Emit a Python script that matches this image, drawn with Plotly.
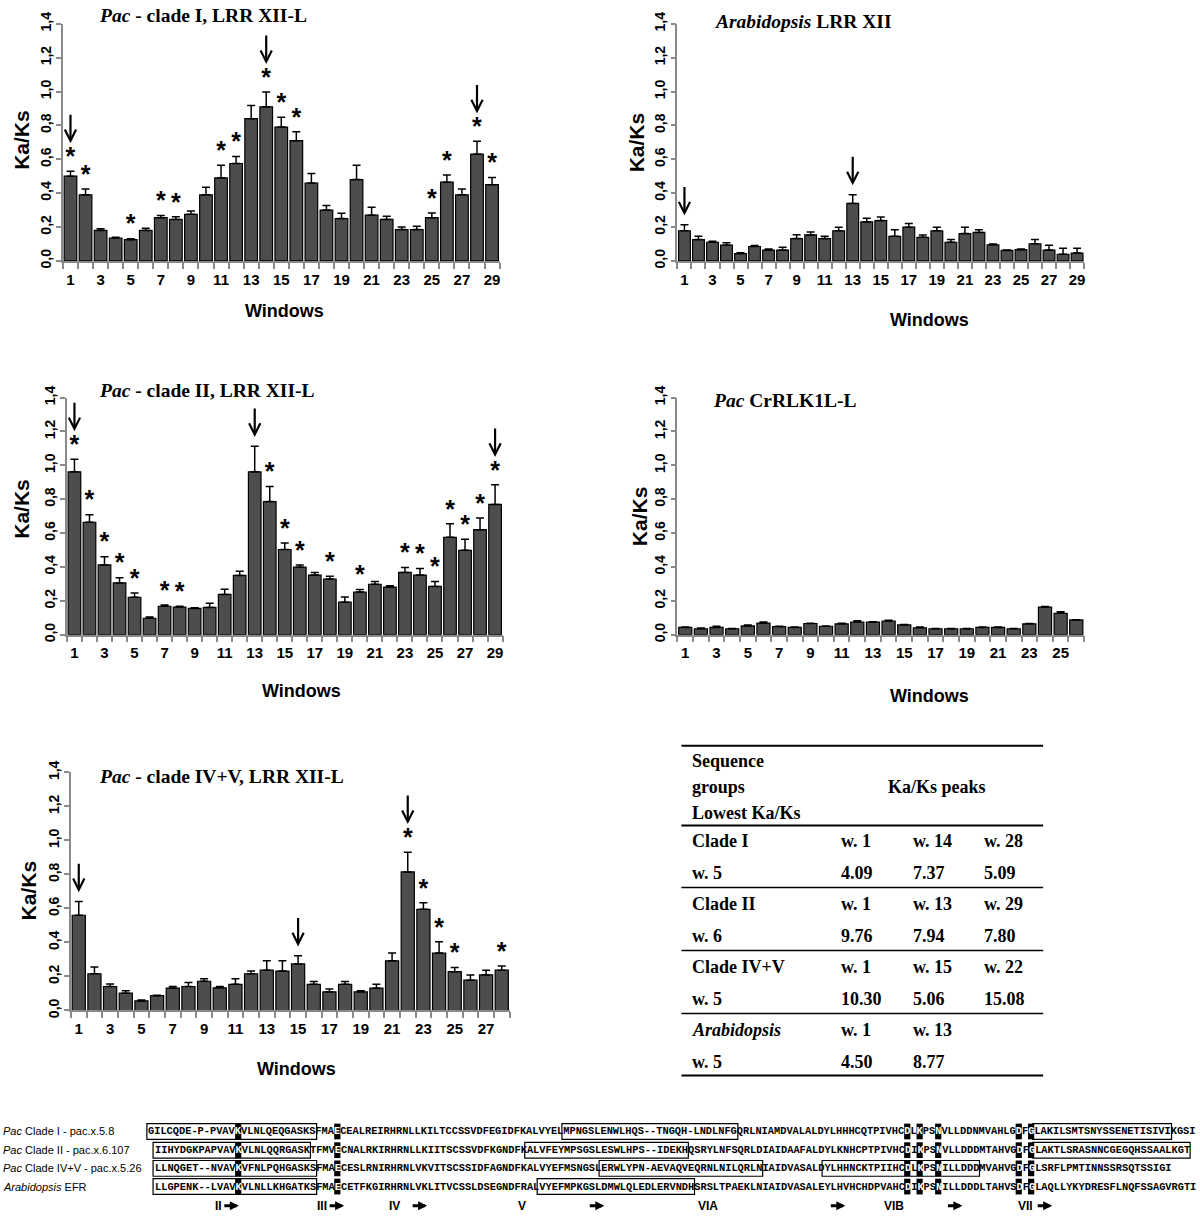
import plotly.graph_objects as go

W, H = 1200, 1229

# Ka/Ks per window (bar) and upper error, windows with * and arrow peaks
clade1_kaks = [0.50, 0.39, 0.18, 0.135, 0.125, 0.18, 0.255, 0.245, 0.275, 0.39, 0.49, 0.575, 0.84, 0.91, 0.79,
               0.71, 0.46, 0.30, 0.25, 0.48, 0.27, 0.245, 0.185, 0.185, 0.255, 0.465, 0.39, 0.63, 0.45]
clade1_err = [0.03, 0.035, 0.01, 0.005, 0.006, 0.013, 0.013, 0.015, 0.02, 0.045, 0.074, 0.041, 0.078, 0.087, 0.058,
              0.052, 0.056, 0.027, 0.031, 0.084, 0.047, 0.019, 0.015, 0.019, 0.027, 0.042, 0.035, 0.076, 0.043]
clade1_stars = [1, 2, 5, 7, 8, 11, 12, 14, 15, 16, 25, 26, 28, 29]
clade1_peaks = [1, 14, 28]

arab_kaks = [0.178, 0.126, 0.11, 0.093, 0.043, 0.085, 0.064, 0.064, 0.132, 0.153, 0.132, 0.178, 0.339, 0.23, 0.238,
             0.145, 0.199, 0.139, 0.178, 0.11, 0.161, 0.168, 0.095, 0.062, 0.066, 0.101, 0.064, 0.039, 0.046]
arab_err = [0.035, 0.02, 0.006, 0.014, 0.005, 0.006, 0.006, 0.017, 0.023, 0.017, 0.013, 0.021, 0.052, 0.022, 0.021,
            0.039, 0.022, 0.014, 0.021, 0.016, 0.038, 0.016, 0.004, 0.002, 0.004, 0.025, 0.029, 0.035, 0.028]
arab_stars = []
arab_peaks = [1, 13]

clade2_kaks = [0.962, 0.664, 0.412, 0.306, 0.221, 0.097, 0.168, 0.163, 0.155, 0.161, 0.238, 0.35, 0.962, 0.786, 0.503,
               0.399, 0.352, 0.329, 0.192, 0.252, 0.298, 0.281, 0.368, 0.352, 0.285, 0.575, 0.498, 0.62, 0.769]
clade2_err = [0.074, 0.045, 0.049, 0.031, 0.025, 0.008, 0.008, 0.005, 0.004, 0.025, 0.031, 0.024, 0.151, 0.089, 0.039,
              0.013, 0.016, 0.016, 0.031, 0.015, 0.016, 0.008, 0.029, 0.039, 0.029, 0.08, 0.066, 0.069, 0.116]
clade2_stars = [1, 2, 3, 4, 5, 7, 8, 14, 15, 16, 18, 20, 23, 24, 25, 26, 27, 28, 29]
clade2_peaks = [1, 13, 29]

crrlk_kaks = [0.043, 0.035, 0.043, 0.035, 0.052, 0.068, 0.048, 0.043, 0.066, 0.05, 0.064, 0.075, 0.074,
              0.081, 0.058, 0.041, 0.035, 0.035, 0.035, 0.043, 0.043, 0.035, 0.064, 0.163, 0.126, 0.087]
crrlk_err = [0.002, 0.005, 0.007, 0.002, 0.006, 0.007, 0.002, 0.002, 0.002, 0.002, 0.003, 0.008, 0.003,
             0.004, 0.002, 0.004, 0.002, 0.002, 0.002, 0.002, 0.002, 0.002, 0.002, 0.004, 0.01, 0.002]
crrlk_stars = []
crrlk_peaks = []

clade45_kaks = [0.56, 0.216, 0.141, 0.102, 0.056, 0.087, 0.131, 0.141, 0.172, 0.133, 0.154, 0.216, 0.237, 0.232,
                0.274, 0.154, 0.11, 0.154, 0.11, 0.131, 0.292, 0.815, 0.595, 0.338, 0.228, 0.178, 0.209, 0.237]
clade45_err = [0.081, 0.039, 0.015, 0.014, 0.006, 0.002, 0.01, 0.023, 0.015, 0.008, 0.033, 0.016, 0.055, 0.06,
               0.048, 0.016, 0.016, 0.016, 0.006, 0.023, 0.046, 0.116, 0.038, 0.066, 0.025, 0.031, 0.028, 0.024]
clade45_stars = [22, 23, 24, 25, 28]
clade45_peaks = [1, 15, 22]

# summary table
table_header = ["Sequence", "groups", "Lowest Ka/Ks"]
table_groups = ["Clade I", "Clade II", "Clade IV+V", "<i>Arabidopsis</i>"]
table_lowest = ["w. 5", "w. 6", "w. 5", "w. 5"]
table_peak_windows = [["w. 1", "w. 14", "w. 28"], ["w. 1", "w. 13", "w. 29"],
                      ["w. 1", "w. 15", "w. 22"], ["w. 1", "w. 13", ""]]
table_peak_values = [["4.09", "7.37", "5.09"], ["9.76", "7.94", "7.80"],
                     ["10.30", "5.06", "15.08"], ["4.50", "8.77", ""]]

# kinase domain alignment
seq_labels = ["<i>Pac</i> Clade I - pac.x.5.8", "<i>Pac</i> Clade II - pac.x.6.107",
              "<i>Pac</i> Clade IV+V - pac.x.5.26", "<i>Arabidopsis</i> EFR"]
seq_rows = [
    "GILCQDE-P-PVAVKVLNLQEQGASKSFMAECEALREIRHRNLLKILTCCSSVDFEGIDFKALVYELMPNGSLENWLHQS--TNGQH-LNDLNFGQRLNIAMDVALALDYLHHHCQTPIVHCDLKPSNVLLDDNMVAHLGDFGLAKILSMTSNYSSENETISIVIKGSI",
    "IIHYDGKPAPVAVKVLNLQQRGASKTFMVECNALRKIRHRNLLKIITSCSSVDFKGNDFKALVFEYMPSGSLESWLHPS--IDEKHQSRYLNFSQRLDIAIDAAFALDYLKNHCPTPIVHCDIKPSNVLLDDDMTAHVGDFGLAKTLSRASNNCGEGQHSSAALKGT",
    "LLNQGET--NVAVKVFNLPQHGASKSFMAECESLRNIRHRNLVKVITSCSSIDFAGNDFKALVYEFMSNGSLERWLYPN-AEVAQVEQRNLNILQRLNIAIDVASALDYLHHNCKTPIIHCDLKPSNILLDDDMVAHVGDFGLSRFLPMTINNSSRSQTSSIGI",
    "LLGPENK--LVAVKVLNLLKHGATKSFMAECETFKGIRHRNLVKLITVCSSLDSEGNDFRALVYEFMPKGSLDMWLQLEDLERVNDHSRSLTPAEKLNIAIDVASALEYLHVHCHDPVAHCDIKPSNILLDDDLTAHVSDFGLAQLLYKYDRESFLNQFSSAGVRGTI",
]
seq_start_col = [0, 1, 1, 1]
seq_boxes = [[(0, 26), (67, 94), (143, 164)],
             [(1, 25), (61, 86), (143, 167)],
             [(1, 26), (73, 98), (109, 133)],
             [(1, 26), (63, 87)]]
seq_marked_cols = [14, 30, 122, 124, 127, 140, 142]
motif_labels = ["II", "III", "IV", "V", "VIA", "VIB", "VII"]
motif_cols = [11.3, 28.0, 39.7, 60.3, 90.3, 120.3, 141.6]
motif_arrow_cols = [14.6, 31.6, 45.0, 73.6, 112.5, 131.4, 145.9]


def px(x):
    return x / W


def py(y):
    return 1 - y / H


def mid(**kw):
    d = dict(xref="paper", yref="paper", showarrow=False, xanchor="center", yanchor="middle")
    d.update(kw)
    return d


panels = [
    dict(v=clade1_kaks, e=clade1_err, stars=clade1_stars, peaks=clade1_peaks, box=(63, 12, 500, 253),
         title="<i>Pac</i> - clade I, LRR XII-L", tpos=(97, 4), ylab=(22, 130), xlab=(285, 304)),
    dict(v=arab_kaks, e=arab_err, stars=arab_stars, peaks=arab_peaks, box=(678, 12, 1085, 253),
         title="<i>Arabidopsis</i> LRR XII", tpos=(713, 10), ylab=(637, 132), xlab=(930, 313)),
    dict(v=clade2_kaks, e=clade2_err, stars=clade2_stars, peaks=clade2_peaks, box=(67, 392, 503, 633),
         title="<i>Pac</i> - clade II, LRR XII-L", tpos=(97, 385), ylab=(22, 505), xlab=(302, 690)),
    dict(v=crrlk_kaks, e=crrlk_err, stars=crrlk_stars, peaks=crrlk_peaks, box=(678, 392, 1085, 633),
         title="<i>Pac</i> CrRLK1L-L", tpos=(712, 395), ylab=(640, 512), xlab=(930, 695)),
    dict(v=clade45_kaks, e=clade45_err, stars=clade45_stars, peaks=clade45_peaks, box=(71, 773, 510, 1015),
         title="<i>Pac</i> - clade IV+V, LRR XII-L", tpos=(97, 777), ylab=(28, 893), xlab=(297, 1074)),
]

AXIS_GREY = "#8a8a8a"
fig = go.Figure()
annotations = []
shapes = []
layout_axes = {}

for i, p in enumerate(panels, start=1):
    n = len(p["v"])
    xs = list(range(1, n + 1))
    xa = "x" if i == 1 else f"x{i}"
    ya = "y" if i == 1 else f"y{i}"
    fig.add_trace(go.Bar(
        x=xs, y=p["v"], xaxis=xa, yaxis=ya, width=0.84, showlegend=False, hoverinfo="skip",
        marker=dict(color="#4d4d4d", line=dict(color="black", width=1.2)),
        error_y=dict(type="data", symmetric=False, array=p["e"], arrayminus=[0] * n,
                     color="black", thickness=1.5, width=4)))
    tops = [a + b for a, b in zip(p["v"], p["e"])]
    if p["stars"]:
        fig.add_trace(go.Scatter(
            x=p["stars"], y=[tops[w - 1] for w in p["stars"]], mode="text",
            text=["*"] * len(p["stars"]), textposition="top center", cliponaxis=False,
            textfont=dict(family="Liberation Sans", size=25, color="black", weight="bold"),
            xaxis=xa, yaxis=ya, showlegend=False, hoverinfo="skip"))
    for w in p["peaks"]:
        lift = 0.165 if w in p["stars"] else 0.055
        annotations.append(dict(x=w, y=tops[w - 1] + lift, xref=xa, yref=ya, text="", showarrow=True,
                                arrowhead=5, arrowsize=1, arrowwidth=2.2, arrowcolor="black",
                                ax=0, ay=-30))
    x0, y0, x1, y1 = p["box"]
    key = "" if i == 1 else str(i)
    layout_axes["xaxis" + key] = dict(
        domain=[px(x0), px(x1)], anchor=ya, range=[0.5, n + 0.5], tickmode="array",
        tickvals=list(range(1, n + 1, 2)), ticks="outside", ticklen=4, tickcolor="rgba(0,0,0,0)",
        showline=True, linecolor=AXIS_GREY, linewidth=1.5, showgrid=False, zeroline=False,
        tickfont=dict(family="Liberation Sans", size=15, color="black", weight="bold"),
        minor=dict(tickmode="linear", tick0=0.5, dtick=1, ticks="outside", ticklen=6,
                   tickcolor=AXIS_GREY, tickwidth=1.5, showgrid=False),
        fixedrange=True)
    layout_axes["yaxis" + key] = dict(
        domain=[py(y1), py(y0)], anchor=xa, range=[0, 1.4], dtick=0.2, tickformat=".1f",
        ticks="outside", ticklen=5, tickcolor=AXIS_GREY, tickwidth=1.5, tickangle=-90,
        showline=True, linecolor=AXIS_GREY, linewidth=1.5, showgrid=False, zeroline=False,
        tickfont=dict(family="Liberation Sans", size=14, color="black", weight="bold"),
        fixedrange=True)
    tx, ty = p["tpos"]
    annotations.append(mid(x=px(tx), y=py(ty), xanchor="left", text=p["title"],
                           font=dict(family="Liberation Serif", size=19.5, color="black", weight="bold")))
    lx, ly = p["ylab"]
    annotations.append(mid(x=px(lx), y=py(ly), text="Ka/Ks", textangle=-90,
                           font=dict(family="Liberation Sans", size=21, color="black", weight="bold")))
    wx, wy = p["xlab"]
    annotations.append(mid(x=px(wx), y=py(wy), text="Windows",
                           font=dict(family="Liberation Sans", size=18, color="black", weight="bold")))

# table
tfont = dict(family="Liberation Serif", size=18, color="black", weight="bold")
for k, txt in enumerate(table_header):
    annotations.append(mid(x=px(691), y=py(761 + 26.5 * k), xanchor="left", text=txt, font=tfont))
annotations.append(mid(x=px(887), y=py(788), xanchor="left", text="Ka/Ks peaks", font=tfont))
col_x = [840, 912, 983]
for r in range(len(table_groups)):
    yg = 843 + 64 * r
    annotations.append(mid(x=px(691), y=py(yg), xanchor="left", text=table_groups[r], font=tfont))
    annotations.append(mid(x=px(691), y=py(yg + 32), xanchor="left", text=table_lowest[r], font=tfont))
    for c in range(3):
        for txt, yy in ((table_peak_windows[r][c], yg), (table_peak_values[r][c], yg + 32)):
            if txt:
                annotations.append(mid(x=px(col_x[c]), y=py(yy), xanchor="left", text=txt, font=tfont))
for yl, lw in zip([746, 827, 890, 954, 1018, 1081], [2, 2, 1.6, 1.6, 1.6, 2]):
    shapes.append(dict(type="line", xref="paper", yref="paper", x0=px(682), x1=px(1044),
                       y0=py(yl), y1=py(yl), line=dict(color="black", width=lw)))

# alignment
SX, CW = 148.5, 6.2
row_y = [1138, 1157, 1175.5, 1194]
for r, seq in enumerate(seq_rows):
    start = seq_start_col[r]
    parts = []
    for j, ch in enumerate(seq):
        col = start + j
        if col in seq_marked_cols:
            parts.append(f'<span style="color:white">{ch}</span>')
            shapes.append(dict(type="rect", xref="paper", yref="paper", x0=px(SX + col * CW),
                               x1=px(SX + (col + 1) * CW), y0=py(row_y[r] + 8), y1=py(row_y[r] - 8),
                               fillcolor="black", line=dict(width=0), layer="above"))
        else:
            parts.append(ch)
    annotations.append(mid(x=px(SX + start * CW), y=py(row_y[r]), xanchor="left", text="".join(parts),
                           borderpad=0, borderwidth=0,
                           font=dict(family="Liberation Mono", size=CW / 0.6, color="black", weight="bold")))
    for c0, c1 in seq_boxes[r]:
        shapes.append(dict(type="rect", xref="paper", yref="paper", x0=px(SX + c0 * CW - 1.5),
                           x1=px(SX + (c1 + 1) * CW + 1), y0=py(row_y[r] + 8), y1=py(row_y[r] - 8),
                           line=dict(color="black", width=1.2), layer="above"))
    annotations.append(mid(x=px(1), y=py(row_y[r]), xanchor="left", text=seq_labels[r],
                           font=dict(family="Liberation Sans", size=11, color="black")))

for lab, c in zip(motif_labels, motif_cols):
    annotations.append(mid(x=px(SX + c * CW), y=py(1214), text=lab,
                           font=dict(family="Liberation Sans", size=12, color="black", weight="bold")))
for c in motif_arrow_cols:
    annotations.append(dict(x=px(SX + c * CW), y=py(1213.5), xref="paper", yref="paper", text="",
                            showarrow=True, arrowhead=2, arrowsize=0.6, arrowwidth=3, arrowcolor="black",
                            ax=-16, ay=0))

fig.update_layout(
    width=W, height=H, margin=dict(l=0, r=0, t=0, b=0), paper_bgcolor="white", plot_bgcolor="white",
    separators=",.", bargap=0.16, annotations=annotations, shapes=shapes, **layout_axes)

fig.write_html("out.html", config={"displayModeBar": False},
               post_script="document.body.style.margin='0';")
